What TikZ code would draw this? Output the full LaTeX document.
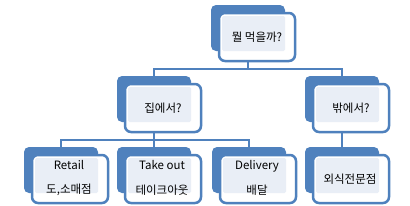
\documentclass[tikz,border=0pt]{standalone}
\usepackage{fontspec}
\setmainfont{Noto Sans CJK KR}
\usetikzlibrary{calc}
\definecolor{smblue}{HTML}{4F81BD}
\definecolor{smfill}{HTML}{E9EEF6}
\begin{document}
\begin{tikzpicture}[x=1pt, y=-1pt, line join=round, line cap=round,
	back/.style={fill=smblue, rounded corners=5pt, minimum width=74pt, minimum height=46pt, anchor=north west, inner sep=0pt, outer sep=0pt},
	front/.style={fill=white, draw=smblue, line width=2.5pt, rounded corners=6pt, minimum width=76pt, minimum height=48pt, anchor=north west, inner sep=0pt, outer sep=0pt},
	lightbox/.style={fill=smfill, rounded corners=1.5pt},
	txt/.style={font=\fontsize{11.5}{13.6}\selectfont, align=center, inner sep=0pt},
	conn/.style={draw=smblue, line width=2.5pt, line cap=butt, line join=miter}]
			\useasboundingbox (0,0) rectangle (410,206);
			\coordinate (bus1) at (0,69);
			\coordinate (bus2) at (0,140);
			\node[back] (topb) at (211,5) {};
			\node[back] (homeb) at (117,76) {};
			\node[back] (outb) at (305,76) {};
			\node[back] (retailb) at (24,147) {};
			\node[back] (takeoutb) at (117,147) {};
			\node[back] (delivb) at (212,147) {};
			\node[back] (outdoorb) at (305,147) {};
			\draw[conn] (topb.center)--(topb.center |- bus1) -| (homeb.center);
			\draw[conn] (topb.center |- bus1) -| (outb.center);
			\draw[conn] (homeb.center)--(homeb.center |- bus2) -| (retailb.center);
			\draw[conn] (homeb.center |- bus2) -| (delivb.center);
			\draw[conn] (homeb.center)--(takeoutb.north);
			\draw[conn] (outb.center)--(outdoorb.north);
			\node[front] (topf) at (219,13) {};
			\node[front] (homef) at (125,84) {};
			\node[front] (outf) at (313,84) {};
			\node[front] (retailf) at (32,155) {};
			\node[front] (takeoutf) at (125,155) {};
			\node[front] (delivf) at (220,155) {};
			\node[front] (outdoorf) at (313,155) {};
			\fill[lightbox] ($(topf.north west)+(3,3)$) rectangle (topb.south east);
			\fill[lightbox] ($(homef.north west)+(3,3)$) rectangle (homeb.south east);
			\fill[lightbox] ($(outf.north west)+(3,3)$) rectangle (outb.south east);
			\fill[lightbox] ($(retailf.north west)+(3,3)$) rectangle (retailb.south east);
			\fill[lightbox] ($(takeoutf.north west)+(3,3)$) rectangle (takeoutb.south east);
			\fill[lightbox] ($(delivf.north west)+(3,3)$) rectangle (delivb.south east);
			\fill[lightbox] ($(outdoorf.north west)+(3,3)$) rectangle (outdoorb.south east);
			\node[txt] (toptxt) at (topf.center) {뭘 먹을까?};
			\node[txt] (hometxt) at (homef.center) {집에서?};
			\node[txt] (outtxt) at (outf.center) {밖에서?};
			\node[txt] (retailtxt) at ($(retailf.center)+(-1,-1)$) {Retail\\[11pt]도,소매점};
			\node[txt] (takeouttxt) at ($(takeoutf.center)+(-1,-1)$) {Take out\\[11pt]테이크아웃};
			\node[txt] (delivtxt) at ($(delivf.center)+(-1,-1)$) {Delivery\\[11pt]배달};
			\node[txt] (outdoortxt) at ($(outdoorf.center)+(-1,0)$) {외식전문점};
		\end{tikzpicture}
\end{document}
